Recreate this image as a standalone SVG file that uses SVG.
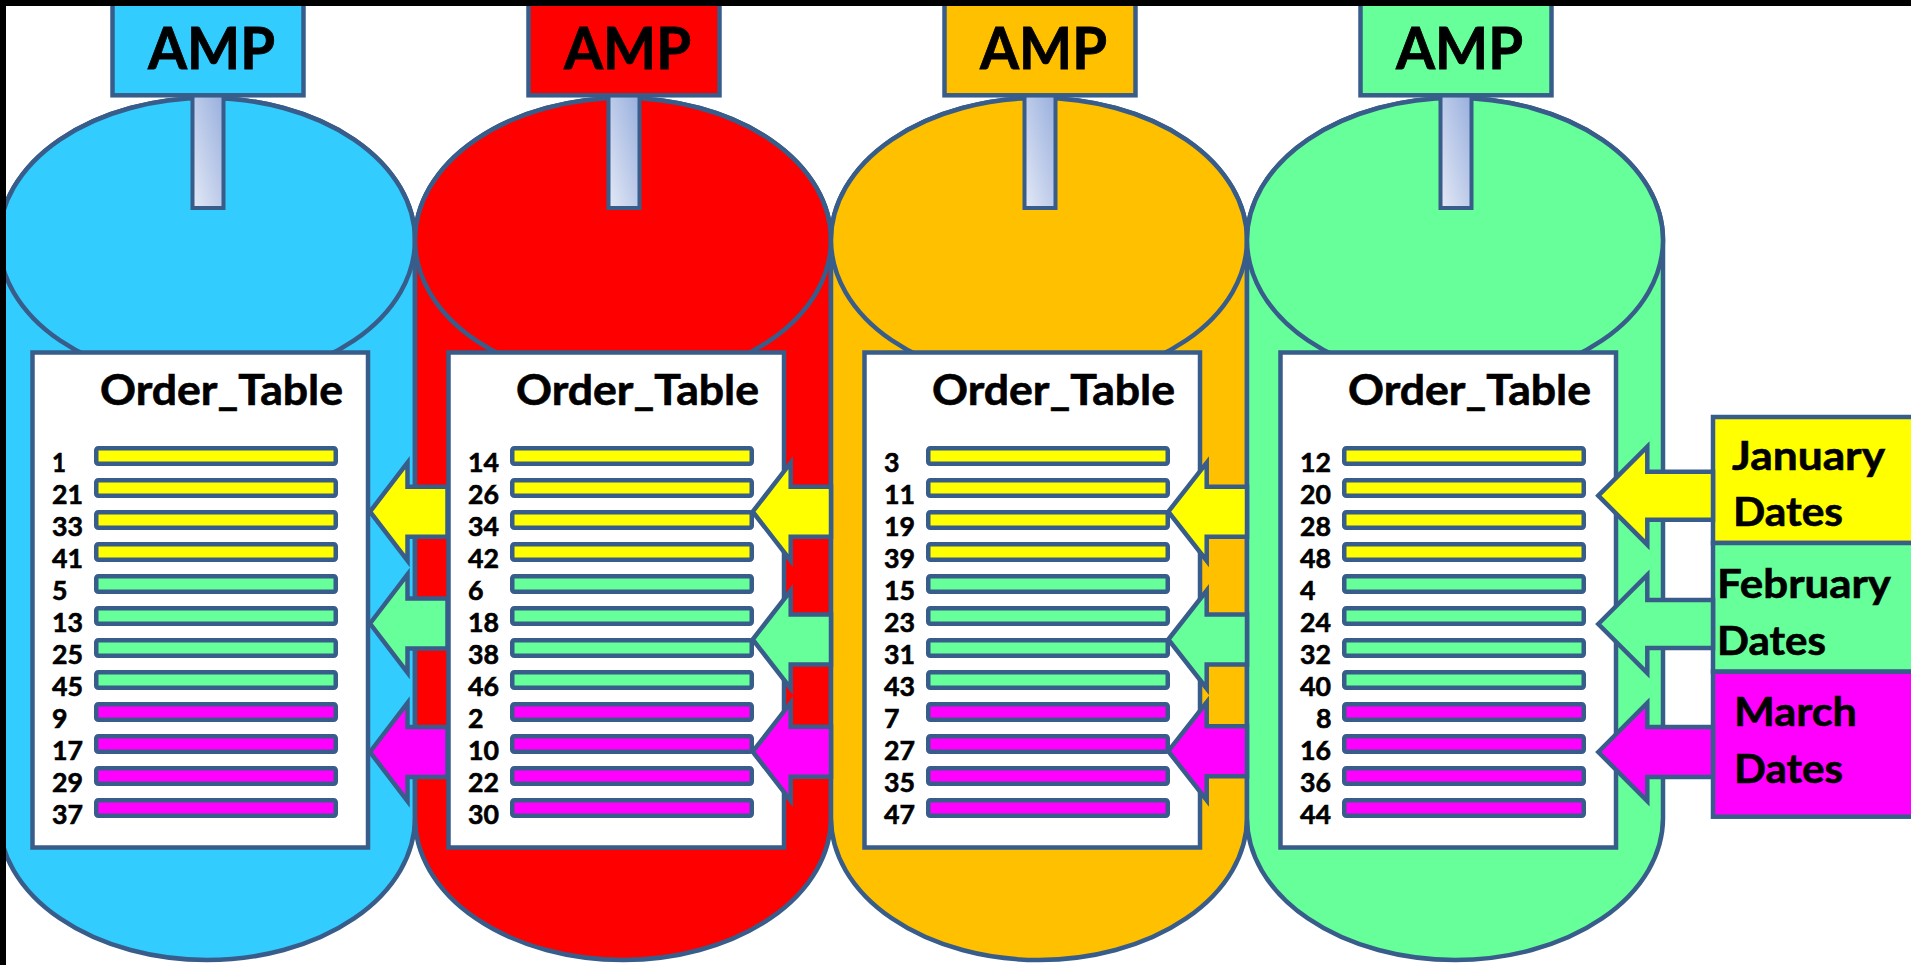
<svg xmlns="http://www.w3.org/2000/svg" width="1911" height="965" viewBox="0 0 1911 965">
  <style>
    .ln { stroke: #385D8A; stroke-width: 4.5; stroke-linejoin: miter; }
    .amp-stem { fill: url(#stemGrad); stroke: #385D8A; stroke-width: 4; }
    .tbl { fill: #FFFFFF; stroke: #385D8A; stroke-width: 4.5; }
    .bar { stroke: #385D8A; stroke-width: 4.5; }
    .y { fill: #FFFF00; }
    .g { fill: #66FF99; }
    .m { fill: #FF00FF; }
    .t { font-family: Lato, "Liberation Sans", sans-serif; font-weight: bold; fill: #000000; stroke: #000000; stroke-width: 0.5; }
    .amp { font-size: 57px; stroke-width: 0.8; }
    .title { font-size: 42px; stroke-width: 0.6; }
    .num { font-size: 26.5px; stroke-width: 0.6; }
    .leg { font-size: 40px; stroke-width: 0.6; }
  </style>
  <defs>
    <linearGradient id="stemGrad" x1="1" y1="0" x2="0" y2="1">
      <stop offset="0" stop-color="#97AEDD"/>
      <stop offset="1" stop-color="#E4E9F6"/>
    </linearGradient>
  </defs>

  <rect x="0" y="0" width="1911" height="965" fill="#FFFFFF"/>

  <!-- AMP cylinders -->
  <g id="amp1">
    <path class="ln" fill="#33CCFF" d="M -1 240 L -1 818 A 208 142 0 0 0 415 818 L 415 240 A 208 142 0 0 0 -1 240 Z"/>
    <ellipse class="ln" fill="#33CCFF" cx="207" cy="240" rx="208" ry="142"/>
    <rect class="amp-stem" x="192.5" y="95" width="31" height="113"/>
    <rect class="ln" fill="#33CCFF" x="112.5" y="-10" width="191" height="105.3"/>
    <text class="t amp" x="211.5" y="69.3" text-anchor="middle" textLength="127" lengthAdjust="spacingAndGlyphs">AMP</text>
  </g>
  <g id="amp2">
    <path class="ln" fill="#FF0000" d="M 415 240 L 415 818 A 208 142 0 0 0 831 818 L 831 240 A 208 142 0 0 0 415 240 Z"/>
    <ellipse class="ln" fill="#FF0000" cx="623" cy="240" rx="208" ry="142"/>
    <rect class="amp-stem" x="608.5" y="95" width="31" height="113"/>
    <rect class="ln" fill="#FF0000" x="528.5" y="-10" width="191" height="105.3"/>
    <text class="t amp" x="627.5" y="69.3" text-anchor="middle" textLength="127" lengthAdjust="spacingAndGlyphs">AMP</text>
  </g>
  <g id="amp3">
    <path class="ln" fill="#FFC000" d="M 831 240 L 831 818 A 208 142 0 0 0 1247 818 L 1247 240 A 208 142 0 0 0 831 240 Z"/>
    <ellipse class="ln" fill="#FFC000" cx="1039" cy="240" rx="208" ry="142"/>
    <rect class="amp-stem" x="1024.5" y="95" width="31" height="113"/>
    <rect class="ln" fill="#FFC000" x="944.5" y="-10" width="191" height="105.3"/>
    <text class="t amp" x="1043.5" y="69.3" text-anchor="middle" textLength="127" lengthAdjust="spacingAndGlyphs">AMP</text>
  </g>
  <g id="amp4">
    <path class="ln" fill="#66FF99" d="M 1247 240 L 1247 818 A 208 142 0 0 0 1663 818 L 1663 240 A 208 142 0 0 0 1247 240 Z"/>
    <ellipse class="ln" fill="#66FF99" cx="1455" cy="240" rx="208" ry="142"/>
    <rect class="amp-stem" x="1440.5" y="95" width="31" height="113"/>
    <rect class="ln" fill="#66FF99" x="1360.5" y="-10" width="191" height="105.3"/>
    <text class="t amp" x="1459.5" y="69.3" text-anchor="middle" textLength="127" lengthAdjust="spacingAndGlyphs">AMP</text>
  </g>

  <!-- Order_Table on each AMP -->
  <g id="table1">
    <rect class="tbl" x="32.5" y="352.5" width="335.5" height="495"/>
    <text class="t title" x="100" y="405" textLength="243" lengthAdjust="spacingAndGlyphs">Order_Table</text>
    <rect class="bar y" x="96.25" y="448.2" width="239.5" height="15.5" rx="2"/>
    <rect class="bar y" x="96.25" y="480.2" width="239.5" height="15.5" rx="2"/>
    <rect class="bar y" x="96.25" y="512.2" width="239.5" height="15.5" rx="2"/>
    <rect class="bar y" x="96.25" y="544.2" width="239.5" height="15.5" rx="2"/>
    <rect class="bar g" x="96.25" y="576.2" width="239.5" height="15.5" rx="2"/>
    <rect class="bar g" x="96.25" y="608.2" width="239.5" height="15.5" rx="2"/>
    <rect class="bar g" x="96.25" y="640.2" width="239.5" height="15.5" rx="2"/>
    <rect class="bar g" x="96.25" y="672.2" width="239.5" height="15.5" rx="2"/>
    <rect class="bar m" x="96.25" y="704.2" width="239.5" height="15.5" rx="2"/>
    <rect class="bar m" x="96.25" y="736.2" width="239.5" height="15.5" rx="2"/>
    <rect class="bar m" x="96.25" y="768.2" width="239.5" height="15.5" rx="2"/>
    <rect class="bar m" x="96.25" y="800.2" width="239.5" height="15.5" rx="2"/>
    <text class="t num" x="52" y="471.5" textLength="14" lengthAdjust="spacingAndGlyphs">1</text>
    <text class="t num" x="52" y="503.5" textLength="31" lengthAdjust="spacingAndGlyphs">21</text>
    <text class="t num" x="52" y="535.5" textLength="31" lengthAdjust="spacingAndGlyphs">33</text>
    <text class="t num" x="52" y="567.5" textLength="31" lengthAdjust="spacingAndGlyphs">41</text>
    <text class="t num" x="52" y="599.5" textLength="15.5" lengthAdjust="spacingAndGlyphs">5</text>
    <text class="t num" x="52" y="631.5" textLength="31" lengthAdjust="spacingAndGlyphs">13</text>
    <text class="t num" x="52" y="663.5" textLength="31" lengthAdjust="spacingAndGlyphs">25</text>
    <text class="t num" x="52" y="695.5" textLength="31" lengthAdjust="spacingAndGlyphs">45</text>
    <text class="t num" x="52" y="727.5" textLength="15.5" lengthAdjust="spacingAndGlyphs">9</text>
    <text class="t num" x="52" y="759.5" textLength="31" lengthAdjust="spacingAndGlyphs">17</text>
    <text class="t num" x="52" y="791.5" textLength="31" lengthAdjust="spacingAndGlyphs">29</text>
    <text class="t num" x="52" y="823.5" textLength="31" lengthAdjust="spacingAndGlyphs">37</text>
  </g>
  <g id="table2">
    <rect class="tbl" x="448.5" y="352.5" width="335.5" height="495"/>
    <text class="t title" x="516" y="405" textLength="243" lengthAdjust="spacingAndGlyphs">Order_Table</text>
    <rect class="bar y" x="512.25" y="448.2" width="239.5" height="15.5" rx="2"/>
    <rect class="bar y" x="512.25" y="480.2" width="239.5" height="15.5" rx="2"/>
    <rect class="bar y" x="512.25" y="512.2" width="239.5" height="15.5" rx="2"/>
    <rect class="bar y" x="512.25" y="544.2" width="239.5" height="15.5" rx="2"/>
    <rect class="bar g" x="512.25" y="576.2" width="239.5" height="15.5" rx="2"/>
    <rect class="bar g" x="512.25" y="608.2" width="239.5" height="15.5" rx="2"/>
    <rect class="bar g" x="512.25" y="640.2" width="239.5" height="15.5" rx="2"/>
    <rect class="bar g" x="512.25" y="672.2" width="239.5" height="15.5" rx="2"/>
    <rect class="bar m" x="512.25" y="704.2" width="239.5" height="15.5" rx="2"/>
    <rect class="bar m" x="512.25" y="736.2" width="239.5" height="15.5" rx="2"/>
    <rect class="bar m" x="512.25" y="768.2" width="239.5" height="15.5" rx="2"/>
    <rect class="bar m" x="512.25" y="800.2" width="239.5" height="15.5" rx="2"/>
    <text class="t num" x="468" y="471.5" textLength="31" lengthAdjust="spacingAndGlyphs">14</text>
    <text class="t num" x="468" y="503.5" textLength="31" lengthAdjust="spacingAndGlyphs">26</text>
    <text class="t num" x="468" y="535.5" textLength="31" lengthAdjust="spacingAndGlyphs">34</text>
    <text class="t num" x="468" y="567.5" textLength="31" lengthAdjust="spacingAndGlyphs">42</text>
    <text class="t num" x="468" y="599.5" textLength="15.5" lengthAdjust="spacingAndGlyphs">6</text>
    <text class="t num" x="468" y="631.5" textLength="31" lengthAdjust="spacingAndGlyphs">18</text>
    <text class="t num" x="468" y="663.5" textLength="31" lengthAdjust="spacingAndGlyphs">38</text>
    <text class="t num" x="468" y="695.5" textLength="31" lengthAdjust="spacingAndGlyphs">46</text>
    <text class="t num" x="468" y="727.5" textLength="15.5" lengthAdjust="spacingAndGlyphs">2</text>
    <text class="t num" x="468" y="759.5" textLength="31" lengthAdjust="spacingAndGlyphs">10</text>
    <text class="t num" x="468" y="791.5" textLength="31" lengthAdjust="spacingAndGlyphs">22</text>
    <text class="t num" x="468" y="823.5" textLength="31" lengthAdjust="spacingAndGlyphs">30</text>
  </g>
  <g id="table3">
    <rect class="tbl" x="864.5" y="352.5" width="335.5" height="495"/>
    <text class="t title" x="932" y="405" textLength="243" lengthAdjust="spacingAndGlyphs">Order_Table</text>
    <rect class="bar y" x="928.25" y="448.2" width="239.5" height="15.5" rx="2"/>
    <rect class="bar y" x="928.25" y="480.2" width="239.5" height="15.5" rx="2"/>
    <rect class="bar y" x="928.25" y="512.2" width="239.5" height="15.5" rx="2"/>
    <rect class="bar y" x="928.25" y="544.2" width="239.5" height="15.5" rx="2"/>
    <rect class="bar g" x="928.25" y="576.2" width="239.5" height="15.5" rx="2"/>
    <rect class="bar g" x="928.25" y="608.2" width="239.5" height="15.5" rx="2"/>
    <rect class="bar g" x="928.25" y="640.2" width="239.5" height="15.5" rx="2"/>
    <rect class="bar g" x="928.25" y="672.2" width="239.5" height="15.5" rx="2"/>
    <rect class="bar m" x="928.25" y="704.2" width="239.5" height="15.5" rx="2"/>
    <rect class="bar m" x="928.25" y="736.2" width="239.5" height="15.5" rx="2"/>
    <rect class="bar m" x="928.25" y="768.2" width="239.5" height="15.5" rx="2"/>
    <rect class="bar m" x="928.25" y="800.2" width="239.5" height="15.5" rx="2"/>
    <text class="t num" x="884" y="471.5" textLength="15.5" lengthAdjust="spacingAndGlyphs">3</text>
    <text class="t num" x="884" y="503.5" textLength="31" lengthAdjust="spacingAndGlyphs">11</text>
    <text class="t num" x="884" y="535.5" textLength="31" lengthAdjust="spacingAndGlyphs">19</text>
    <text class="t num" x="884" y="567.5" textLength="31" lengthAdjust="spacingAndGlyphs">39</text>
    <text class="t num" x="884" y="599.5" textLength="31" lengthAdjust="spacingAndGlyphs">15</text>
    <text class="t num" x="884" y="631.5" textLength="31" lengthAdjust="spacingAndGlyphs">23</text>
    <text class="t num" x="884" y="663.5" textLength="31" lengthAdjust="spacingAndGlyphs">31</text>
    <text class="t num" x="884" y="695.5" textLength="31" lengthAdjust="spacingAndGlyphs">43</text>
    <text class="t num" x="884" y="727.5" textLength="15.5" lengthAdjust="spacingAndGlyphs">7</text>
    <text class="t num" x="884" y="759.5" textLength="31" lengthAdjust="spacingAndGlyphs">27</text>
    <text class="t num" x="884" y="791.5" textLength="31" lengthAdjust="spacingAndGlyphs">35</text>
    <text class="t num" x="884" y="823.5" textLength="31" lengthAdjust="spacingAndGlyphs">47</text>
  </g>
  <g id="table4">
    <rect class="tbl" x="1280.5" y="352.5" width="335.5" height="495"/>
    <text class="t title" x="1348" y="405" textLength="243" lengthAdjust="spacingAndGlyphs">Order_Table</text>
    <rect class="bar y" x="1344.25" y="448.2" width="239.5" height="15.5" rx="2"/>
    <rect class="bar y" x="1344.25" y="480.2" width="239.5" height="15.5" rx="2"/>
    <rect class="bar y" x="1344.25" y="512.2" width="239.5" height="15.5" rx="2"/>
    <rect class="bar y" x="1344.25" y="544.2" width="239.5" height="15.5" rx="2"/>
    <rect class="bar g" x="1344.25" y="576.2" width="239.5" height="15.5" rx="2"/>
    <rect class="bar g" x="1344.25" y="608.2" width="239.5" height="15.5" rx="2"/>
    <rect class="bar g" x="1344.25" y="640.2" width="239.5" height="15.5" rx="2"/>
    <rect class="bar g" x="1344.25" y="672.2" width="239.5" height="15.5" rx="2"/>
    <rect class="bar m" x="1344.25" y="704.2" width="239.5" height="15.5" rx="2"/>
    <rect class="bar m" x="1344.25" y="736.2" width="239.5" height="15.5" rx="2"/>
    <rect class="bar m" x="1344.25" y="768.2" width="239.5" height="15.5" rx="2"/>
    <rect class="bar m" x="1344.25" y="800.2" width="239.5" height="15.5" rx="2"/>
    <text class="t num" x="1300" y="471.5" textLength="31" lengthAdjust="spacingAndGlyphs">12</text>
    <text class="t num" x="1300" y="503.5" textLength="31" lengthAdjust="spacingAndGlyphs">20</text>
    <text class="t num" x="1300" y="535.5" textLength="31" lengthAdjust="spacingAndGlyphs">28</text>
    <text class="t num" x="1300" y="567.5" textLength="31" lengthAdjust="spacingAndGlyphs">48</text>
    <text class="t num" x="1300" y="599.5" textLength="15.5" lengthAdjust="spacingAndGlyphs">4</text>
    <text class="t num" x="1300" y="631.5" textLength="31" lengthAdjust="spacingAndGlyphs">24</text>
    <text class="t num" x="1300" y="663.5" textLength="31" lengthAdjust="spacingAndGlyphs">32</text>
    <text class="t num" x="1300" y="695.5" textLength="31" lengthAdjust="spacingAndGlyphs">40</text>
    <text class="t num" x="1316" y="727.5" textLength="15.5" lengthAdjust="spacingAndGlyphs">8</text>
    <text class="t num" x="1300" y="759.5" textLength="31" lengthAdjust="spacingAndGlyphs">16</text>
    <text class="t num" x="1300" y="791.5" textLength="31" lengthAdjust="spacingAndGlyphs">36</text>
    <text class="t num" x="1300" y="823.5" textLength="31" lengthAdjust="spacingAndGlyphs">44</text>
  </g>

  <!-- Month legend -->
  <g id="legend-jan">
    <rect class="ln y" x="1713" y="417" width="220" height="126"/>
    <text class="t leg" x="1732" y="470" textLength="153" lengthAdjust="spacingAndGlyphs">January</text>
    <text class="t leg" x="1733" y="526" textLength="110" lengthAdjust="spacingAndGlyphs">Dates</text>
  </g>
  <g id="legend-feb">
    <rect class="ln g" x="1713" y="543" width="220" height="128.7"/>
    <text class="t leg" x="1717" y="598.3" textLength="174" lengthAdjust="spacingAndGlyphs">February</text>
    <text class="t leg" x="1717" y="655" textLength="109" lengthAdjust="spacingAndGlyphs">Dates</text>
  </g>
  <g id="legend-mar">
    <rect class="ln m" x="1713" y="671.7" width="220" height="145"/>
    <text class="t leg" x="1734" y="726" textLength="123" lengthAdjust="spacingAndGlyphs">March</text>
    <text class="t leg" x="1734" y="782.7" textLength="109" lengthAdjust="spacingAndGlyphs">Dates</text>
  </g>

  <!-- Distribution arrows -->
  <g id="connectors">
    <polygon class="ln y" points="370,511.7 407.5,462.7 407.5,486.7 447.5,486.7 447.5,536.7 407.5,536.7 407.5,560.7"/>
    <polygon class="ln g" points="370,623.5 407.5,574.5 407.5,598.5 447.5,598.5 447.5,648.5 407.5,648.5 407.5,672.5"/>
    <polygon class="ln m" points="370,752 407.5,703 407.5,727 447.5,727 447.5,777 407.5,777 407.5,801"/>

    <polygon class="ln y" points="752.7,511.7 790.7,462.7 790.7,486.7 831,486.7 831,536.7 790.7,536.7 790.7,560.7"/>
    <polygon class="ln g" points="752.7,639.5 790.7,590.5 790.7,614.5 831,614.5 831,664.5 790.7,664.5 790.7,688.5"/>
    <polygon class="ln m" points="752.7,751.7 790.7,702.7 790.7,726.7 831,726.7 831,776.7 790.7,776.7 790.7,800.7"/>

    <polygon class="ln y" points="1168.3,511.7 1206.7,462.7 1206.7,486.7 1247,486.7 1247,536.7 1206.7,536.7 1206.7,560.7"/>
    <polygon class="ln g" points="1168.3,639.5 1206.7,590.5 1206.7,614.5 1247,614.5 1247,664.5 1206.7,664.5 1206.7,688.5"/>
    <polygon class="ln m" points="1168.3,751.2 1206.7,702.2 1206.7,726.2 1247,726.2 1247,776.2 1206.7,776.2 1206.7,800.2"/>

    <polygon class="ln y" points="1598.3,495.7 1647.3,446.7 1647.3,471.7 1713,471.7 1713,519.7 1647.3,519.7 1647.3,544.7"/>
    <polygon class="ln g" points="1598.3,624 1647.3,575 1647.3,600 1713,600 1713,648 1647.3,648 1647.3,673"/>
    <polygon class="ln m" points="1598.3,752 1647.3,703 1647.3,727 1713,727 1713,777 1647.3,777 1647.3,801"/>
  </g>

  <!-- frame edges -->
  <rect x="0" y="0" width="1911" height="6" fill="#000000"/>
  <rect x="0" y="0" width="6" height="965" fill="#000000"/>
</svg>
